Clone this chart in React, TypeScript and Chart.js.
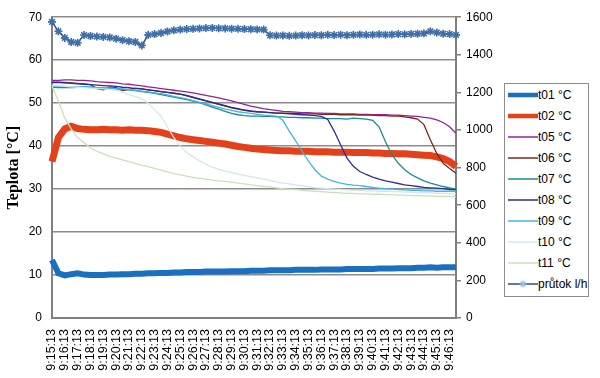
import React, { useEffect, useRef } from 'react';
import { Chart, registerables } from 'chart.js';

Chart.register(...registerables);

const timeLabels = [
  '9:15:13', '9:15:43', '9:16:13', '9:16:43', '9:17:13', '9:17:43', '9:18:13', '9:18:43',
  '9:19:13', '9:19:43', '9:20:13', '9:20:43', '9:21:13', '9:21:43', '9:22:13', '9:22:43',
  '9:23:13', '9:23:43', '9:24:13', '9:24:43', '9:25:13', '9:25:43', '9:26:13', '9:26:43',
  '9:27:13', '9:27:43', '9:28:13', '9:28:43', '9:29:13', '9:29:43', '9:30:13', '9:30:43',
  '9:31:13', '9:31:43', '9:32:13', '9:32:43', '9:33:13', '9:33:43', '9:34:13', '9:34:43',
  '9:35:13', '9:35:43', '9:36:13', '9:36:43', '9:37:13', '9:37:43', '9:38:13', '9:38:43',
  '9:39:13', '9:39:43', '9:40:13', '9:40:43', '9:41:13', '9:41:43', '9:42:13', '9:42:43',
  '9:43:13', '9:43:43', '9:44:13', '9:44:43', '9:45:13', '9:45:43', '9:46:13', '9:46:43',
];

const seriesNames = ['t01 °C', 't02 °C', 't05 °C', 't06 °C', 't07 °C', 't08 °C', 't09 °C', 't10 °C', 't11 °C', 'průtok l/h'];

const t01 = [
  13.5, 10.4, 9.9, 10.2, 10.4, 10.1, 10.0, 10.0, 10.0, 10.1,
  10.1, 10.2, 10.2, 10.3, 10.3, 10.4, 10.4, 10.5, 10.5, 10.6,
  10.6, 10.7, 10.7, 10.7, 10.8, 10.8, 10.8, 10.8, 10.9, 10.9,
  10.9, 11.0, 11.0, 11.0, 11.1, 11.1, 11.1, 11.1, 11.2, 11.2,
  11.2, 11.2, 11.3, 11.3, 11.3, 11.3, 11.4, 11.4, 11.4, 11.4,
  11.4, 11.5, 11.5, 11.5, 11.6, 11.6, 11.6, 11.7, 11.7, 11.8,
  11.7, 11.8, 11.8, 11.8,
];

const t02 = [
  36.4, 42.0, 44.0, 44.6, 44.1, 43.9, 43.8, 43.8, 43.9, 43.8,
  43.8, 43.7, 43.8, 43.7, 43.7, 43.6, 43.4, 43.2, 42.8, 42.4,
  42.0, 41.7, 41.5, 41.3, 41.1, 40.9, 40.7, 40.5, 40.2, 39.9,
  39.7, 39.5, 39.3, 39.2, 39.1, 39.0, 38.9, 38.9, 38.8, 38.8,
  38.8, 38.7, 38.7, 38.7, 38.6, 38.6, 38.6, 38.5, 38.5, 38.5,
  38.4, 38.4, 38.3, 38.3, 38.2, 38.2, 38.1, 38.0, 37.9, 37.8,
  37.5, 37.1, 36.4, 35.3,
];

const t05 = [
  55.3, 55.3, 55.4, 55.4, 55.3, 55.3, 55.2, 55.0, 54.9, 54.8,
  54.7, 54.5, 54.4, 54.2, 54.0, 53.8, 53.6, 53.4, 53.2, 53.0,
  52.8, 52.6, 52.4, 52.1, 51.8, 51.5, 51.2, 50.9, 50.5, 50.1,
  49.7, 49.3, 49.0, 48.7, 48.5, 48.3, 48.1, 48.0, 47.9, 47.8,
  47.8, 47.7, 47.7, 47.6, 47.6, 47.5, 47.5, 47.5, 47.4, 47.4,
  47.3, 47.3, 47.3, 47.2, 47.2, 47.1, 47.0, 46.9, 46.7, 46.5,
  46.1, 45.5, 44.5, 43.0,
];

const t06 = [
  54.9, 54.9, 54.8, 54.7, 54.6, 54.5, 54.3, 53.4, 53.1, 53.8,
  53.6, 52.9, 53.2, 53.5, 53.3, 53.1, 52.9, 52.7, 52.5, 52.3,
  52.1, 51.7, 51.3, 50.9, 50.5, 50.1, 49.7, 49.3, 48.9, 48.6,
  48.3, 48.1, 48.0, 47.9, 47.8, 47.7, 47.7, 47.6, 47.6, 47.5,
  47.5, 47.5, 47.4, 47.4, 47.4, 47.3, 47.3, 47.3, 47.2, 47.2,
  47.2, 47.1, 47.1, 47.0, 47.0, 46.8, 46.6, 46.3, 45.0, 41.5,
  38.3, 36.0, 34.8, 33.7,
];

const t07 = [
  53.7, 53.6, 53.6, 53.6, 53.7, 53.8, 53.7, 53.6, 53.5, 53.4,
  53.3, 53.2, 53.1, 52.9, 52.7, 52.5, 52.3, 52.0, 51.7, 51.4,
  51.1, 50.8, 50.5, 50.1, 49.6, 49.1, 48.6, 48.1, 47.6, 47.3,
  47.1, 47.0, 47.0, 46.9, 46.9, 46.8, 46.8, 46.7, 46.7, 46.6,
  46.6, 46.5, 46.5, 46.4, 46.4, 46.4, 46.3, 46.5, 46.4, 46.3,
  46.0, 44.5, 41.0, 38.0, 36.0, 34.5, 33.4, 32.6, 31.9, 31.4,
  31.0, 30.6, 30.3, 30.0,
];

const t08 = [
  54.8, 54.8, 54.7, 54.6, 54.5, 54.4, 54.3, 54.2, 54.1, 54.0,
  53.9, 53.7, 53.6, 53.4, 53.3, 53.1, 52.9, 52.7, 52.5, 52.3,
  52.1, 51.8, 51.4, 51.0, 50.6, 50.2, 49.8, 49.4, 49.0, 48.7,
  48.4, 48.2, 48.0, 47.9, 47.8, 47.7, 47.6, 47.5, 47.4, 47.3,
  47.2, 47.1, 46.9, 46.2, 43.5, 40.3, 37.2, 35.3, 34.1, 33.4,
  32.8, 32.3, 31.9, 31.6, 31.3, 31.0, 30.8, 30.6, 30.4, 30.3,
  30.2, 30.1, 29.9, 29.8,
];

const t09 = [
  54.0, 53.9, 53.9, 53.8, 53.8, 53.7, 53.7, 53.6, 53.6, 53.5,
  53.4, 53.3, 53.2, 53.0, 52.8, 52.6, 52.4, 52.2, 51.9, 51.6,
  51.3, 51.0, 50.6, 50.2, 49.8, 49.4, 49.0, 48.6, 48.3, 48.0,
  47.8, 47.6, 47.4, 47.2, 47.1, 47.0, 46.0, 43.5, 41.2, 38.8,
  36.5, 34.5, 33.0, 32.3, 31.8, 31.4, 31.1, 30.9, 30.8, 30.6,
  30.4, 30.2, 30.1, 30.0, 29.9, 29.8, 29.7, 29.7, 29.6, 29.6,
  29.5, 29.5, 29.5, 29.5,
];

const t10 = [
  54.2, 54.0, 53.9, 53.8, 53.7, 53.6, 53.5, 53.4, 53.3, 53.2,
  53.0, 52.5, 52.0, 51.5, 51.0, 50.0, 48.5, 47.0, 44.5, 42.0,
  40.0, 38.5, 37.5, 36.6, 35.8, 35.1, 34.6, 34.2, 33.9, 33.5,
  33.2, 32.9, 32.6, 32.3, 32.0, 31.7, 31.4, 31.2, 31.0, 30.8,
  30.6, 30.3, 30.2, 30.1, 30.0, 29.9, 29.8, 29.7, 29.7, 29.6,
  29.6, 29.5, 29.5, 29.4, 29.4, 29.3, 29.3, 29.2, 29.2, 29.1,
  29.0, 29.0, 28.9, 28.9,
];

const t11 = [
  54.0, 50.5, 46.5, 44.0, 42.0, 40.8, 39.6, 38.8, 38.2, 37.6,
  37.2, 36.8, 36.4, 36.0, 35.6, 35.2, 34.8, 34.4, 34.0, 33.6,
  33.3, 33.0, 32.7, 32.5, 32.3, 32.1, 31.9, 31.8, 31.6, 31.4,
  31.2, 31.0, 30.8, 30.6, 30.5, 30.3, 30.1, 30.0, 29.9, 29.7,
  29.6, 29.5, 29.4, 29.3, 29.2, 29.1, 29.0, 29.0, 28.9, 28.9,
  28.8, 28.8, 28.7, 28.7, 28.6, 28.6, 28.5, 28.5, 28.4, 28.4,
  28.3, 28.3, 28.3, 28.2,
];

const prutok = [
  1575, 1525, 1490, 1468, 1464, 1505, 1500, 1497, 1495, 1492,
  1486, 1478, 1472, 1468, 1450, 1506, 1510, 1516, 1524, 1530,
  1534, 1537, 1538, 1540, 1542, 1543, 1541, 1540, 1539, 1538,
  1537, 1536, 1535, 1534, 1504, 1502, 1503, 1501, 1502, 1504,
  1503, 1505, 1504, 1506, 1505, 1507, 1504, 1506, 1508, 1506,
  1507, 1509, 1507, 1508, 1510, 1509, 1511, 1512, 1514, 1525,
  1518, 1512, 1510, 1506,
];

const leftTicksMax = 70;
const rightTicksMax = 1600;

const colors = ['#1a6fc0', '#e4411b', '#93229b', '#7b2a1c', '#1a8c8c', '#2b2f91', '#41b6e6', '#cfe8ee', '#c8e2bc', '#3a4399'];
const widths = [6, 7, 1.3, 1.3, 1.3, 1.3, 1.3, 1.3, 1.3, 1.5];
const starColor = '#3e6fa9';

export default function App() {
  const ref = useRef<HTMLCanvasElement>(null);

  useEffect(() => {
    document.body.style.margin = '0';
    const temps = [t01, t02, t05, t06, t07, t08, t09, t10, t11];
    const datasets: any[] = temps.map((d, i) => ({
      label: seriesNames[i],
      data: d,
      borderColor: colors[i],
      backgroundColor: colors[i],
      borderWidth: widths[i],
      pointRadius: 0,
      tension: 0,
      yAxisID: 'y',
      order: 20 - i,
    }));
    datasets.push({
      label: seriesNames[9],
      data: prutok,
      borderColor: colors[9],
      backgroundColor: starColor,
      borderWidth: widths[9],
      pointStyle: 'star',
      pointRadius: 4,
      pointBorderColor: starColor,
      pointBorderWidth: 1.6,
      tension: 0,
      yAxisID: 'y1',
      order: 0,
    });

    const font = { family: '"Liberation Sans", Arial, sans-serif', size: 12 };
    const chart = new Chart(ref.current!, {
      type: 'line',
      data: { labels: timeLabels, datasets },
      options: {
        animation: false,
        responsive: false,
        layout: { padding: { top: 14, right: 104, bottom: 0, left: 0 } },
        plugins: { legend: { display: false }, tooltip: { enabled: false } },
        scales: {
          x: {
            type: 'category',
            offset: false,
            grid: { display: false },
            border: { display: true, color: '#808080', width: 2 },
            ticks: {
              autoSkip: false,
              minRotation: 90,
              maxRotation: 90,
              padding: 3,
              color: '#000',
              font: { family: font.family, size: 12.5 },
              callback: function (this: any, val: any, idx: number) {
                return idx % 2 === 0 ? this.getLabelForValue(val) : null;
              },
            },
            afterFit: (s: any) => { s.height = 60; },
          },
          y: {
            position: 'left',
            min: 0,
            max: leftTicksMax,
            ticks: { stepSize: 10, color: '#000', font, padding: 10, callback: (v: any) => String(v) },
            grid: { color: '#8c8c8c', lineWidth: 1.5, drawTicks: false },
            border: { display: true, color: '#808080', width: 2 },
            title: {
              display: true,
              text: 'Teplota [°C]',
              color: '#000',
              font: { family: '"Liberation Serif", "Times New Roman", serif', size: 16, weight: 'bold' },
              padding: { top: 4, bottom: 0 },
            },
            afterFit: (s: any) => { s.width = 52; },
          },
          y1: {
            position: 'right',
            min: 0,
            max: rightTicksMax,
            ticks: { stepSize: 200, color: '#000', font, padding: 5, callback: (v: any) => String(v) },
            grid: { drawOnChartArea: false, drawTicks: true, tickLength: 5, color: '#808080', lineWidth: 1.5 },
            border: { display: true, color: '#808080', width: 2 },
            afterFit: (s: any) => { s.width = 40; },
          },
        },
      },
    });
    return () => chart.destroy();
  }, []);

  const legendRow = (i: number) => {
    const isFlow = i === 9;
    return (
      <div key={i} style={{ display: 'flex', alignItems: 'center', height: 21 }}>
        <svg width={30} height={10} style={{ marginLeft: 3, flex: 'none' }}>
          <line x1={0} y1={5} x2={30} y2={5} stroke={colors[i]} strokeWidth={i < 2 ? 4.5 : 1.5} strokeLinecap={i < 2 ? 'round' : 'butt'} />
          {isFlow && (
            <g stroke="#8fc1e8" strokeWidth={1.2}>
              <line x1={11.5} y1={5} x2={18.5} y2={5} />
              <line x1={15} y1={1.5} x2={15} y2={8.5} />
              <line x1={12.5} y1={2.5} x2={17.5} y2={7.5} />
              <line x1={12.5} y1={7.5} x2={17.5} y2={2.5} />
            </g>
          )}
        </svg>
        <span style={{ fontFamily: '"Liberation Sans", Arial, sans-serif', fontSize: 12, color: '#000', whiteSpace: 'nowrap' }}>
          {seriesNames[i]}
        </span>
      </div>
    );
  };

  return (
    <div style={{ position: 'relative', width: 600, height: 378, background: '#fff' }}>
      <canvas ref={ref} width={600} height={378} style={{ display: 'block' }} />
      <div
        style={{
          position: 'absolute',
          left: 504,
          top: 83,
          width: 85,
          height: 214,
          border: '1px solid #8c8c8c',
          background: '#fff',
          boxSizing: 'border-box',
        }}
      >
        {seriesNames.map((_, i) => legendRow(i))}
      </div>
    </div>
  );
}
